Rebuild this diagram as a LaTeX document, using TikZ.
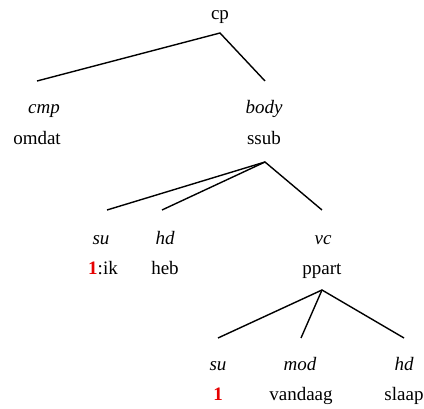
\documentclass[tikz,border=0pt]{standalone}
\usepackage{fontspec}
\setmainfont{Liberation Serif}
\begin{document}
\begin{tikzpicture}[x=1pt,y=-1pt,
  every node/.style={inner sep=0pt,anchor=base,font=\fontsize{19}{22}\selectfont},
  lbl/.style={font=\fontsize{19}{22}\selectfont\itshape},
  edge/.style={line width=1.4pt}]
\useasboundingbox (0,0) rectangle (424,409);
\definecolor{idx}{RGB}{230,0,0}
% level 0
\node (cp) at (220,20) {cp};
\coordinate (cpA) at (220,33);
\coordinate (cmpT) at (37,81);
\coordinate (bodyT) at (265,81);
\draw[edge] (cmpT) -- (cpA) -- (bodyT);
\node[lbl] (cmp) at (44,114) {cmp};
\node (omdat) at (37,145) {omdat};
\node[lbl] (body) at (264,114) {body};
\node (ssub) at (264,145) {ssub};
% level 1
\coordinate (ssubA) at (265,162);
\coordinate (su1T) at (107,210);
\coordinate (hd1T) at (162,210);
\coordinate (vcT) at (322,210);
\draw[edge] (su1T) -- (ssubA) -- (vcT);
\draw[edge] (hd1T) -- (ssubA);
\node[lbl] (su1) at (101,245) {su};
\node[lbl] (hd1) at (165,245) {hd};
\node[lbl] (vc) at (323,245) {vc};
\node (ik) at (103,275) {{\color{idx}\bfseries 1}:ik};
\node (heb) at (165,275) {heb};
\node (ppart) at (322,275) {ppart};
% level 2
\coordinate (ppartA) at (322,290);
\coordinate (su2T) at (218,338);
\coordinate (modT) at (301,338);
\coordinate (hd2T) at (404,338);
\draw[edge] (su2T) -- (ppartA) -- (hd2T);
\draw[edge] (modT) -- (ppartA);
\node[lbl] (su2) at (218,371) {su};
\node[lbl] (mod) at (300,371) {mod};
\node[lbl] (hd2) at (404,371) {hd};
\node (one) at (218,401) {\color{idx}\bfseries 1};
\node (vandaag) at (301,401) {vandaag};
\node (slaap) at (404,401) {slaap};
\end{tikzpicture}
\end{document}
